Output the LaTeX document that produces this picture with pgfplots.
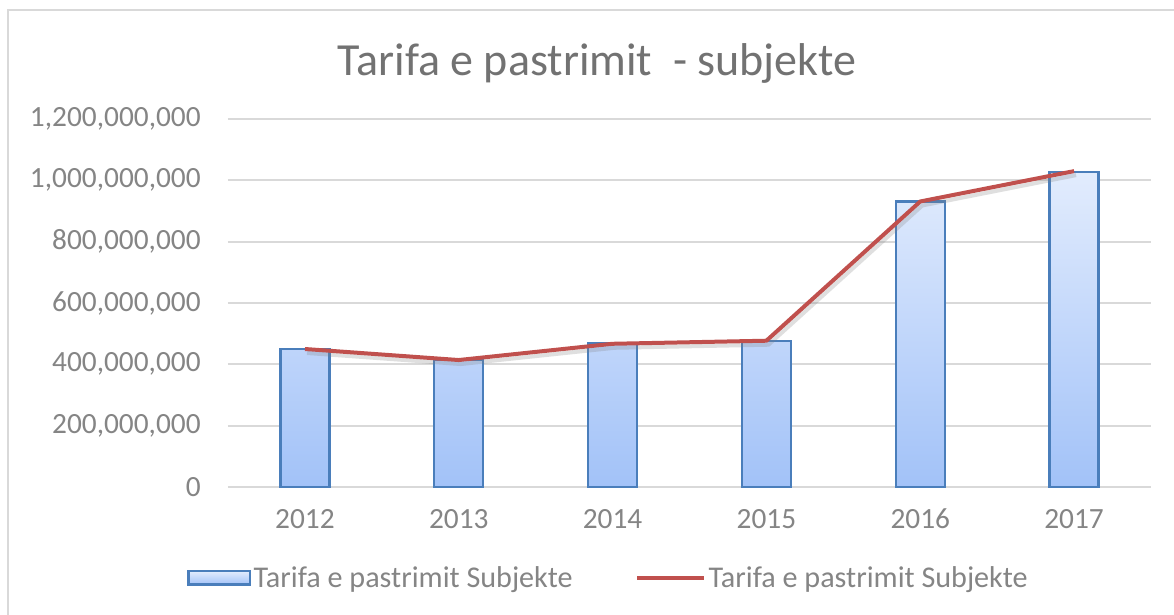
\documentclass[border=0pt]{standalone}
\usepackage{pgfplots}
\pgfplotsset{compat=1.18}
\usepackage{fontspec}
\setmainfont{Carlito}
\definecolor{txtc}{HTML}{858585}
\definecolor{titlec}{HTML}{727272}
\definecolor{gridc}{HTML}{D9D9D9}
\definecolor{barc}{HTML}{4A7EBB}
\definecolor{bartop}{HTML}{E2ECFD}
\definecolor{barbot}{HTML}{A2C2F8}
\definecolor{linec}{HTML}{C0504D}
\begin{document}
\begin{tikzpicture}[x=0.75pt,y=0.75pt]
\useasboundingbox (0,0) rectangle (1174,614);
\fill[white] (0,0) rectangle (1174,614);
\draw[gridc, line width=1.5pt] (8,-2) -- (8,604) -- (1176,604);
\node[font=\fontsize{34.5}{40}\selectfont, text=titlec] at (597,551) {Tarifa e pastrimit\ \ - subjekte};
\begin{axis}[
  at={(171pt,95.25pt)}, anchor=south west,
  scale only axis, width=692.25pt, height=276pt,
  xmin=-0.5, xmax=5.5, ymin=0, ymax=1200000000,
  xtick={0,1,2,3,4,5},
  xticklabels={2012,2013,2014,2015,2016,2017},
  ytick={0,200000000,400000000,600000000,800000000,1000000000,1200000000},
  scaled y ticks=false,
  /pgf/number format/fixed,
  /pgf/number format/precision=0,
  /pgf/number format/1000 sep={,},
  /pgf/number format/assume math mode=true,
  ticklabel style={font=\fontsize{22}{26}\selectfont, text=txtc},
  xticklabel style={yshift=-13pt},
  yticklabel style={xshift=-17pt},
  axis line style={draw=none},
  major tick length=0pt,
  ymajorgrids, grid style={gridc, line width=1.5pt},
  clip=false,
  legend columns=2,
  legend style={draw=none, fill=none, at={(-0.0488,-0.247)}, anchor=west,
    font=\fontsize{22.6}{26}\selectfont, text=txtc,
    /tikz/every even column/.append style={column sep=45pt},
    cells={anchor=west}},
]
\addplot[ybar, bar width=36.75pt, draw=barc, line width=1.8pt, top color=bartop, bottom color=barbot,
  legend image code/.code={\draw[draw=barc, line width=1.8pt, top color=bartop, bottom color=barbot] (0pt,-5pt) rectangle (46pt,5pt);}]
  coordinates {(0,450000000) (1,415000000) (2,468000000) (3,477000000) (4,931000000) (5,1027000000)};
\addlegendentry{Tarifa e pastrimit Subjekte}
\addplot[gray, opacity=0.25, line width=3pt, xshift=1.5pt, yshift=-3pt, forget plot]
  coordinates {(0,450000000) (1,414000000) (2,467000000) (3,477000000) (4,931000000) (5,1030000000)};
\addplot[linec, line width=3pt,
  legend image code/.code={\draw[linec, line width=3pt] (0pt,0pt) -- (50pt,0pt);}]
  coordinates {(0,450000000) (1,414000000) (2,467000000) (3,477000000) (4,931000000) (5,1030000000)};
\addlegendentry{Tarifa e pastrimit Subjekte}
\end{axis}
\end{tikzpicture}
\end{document}
